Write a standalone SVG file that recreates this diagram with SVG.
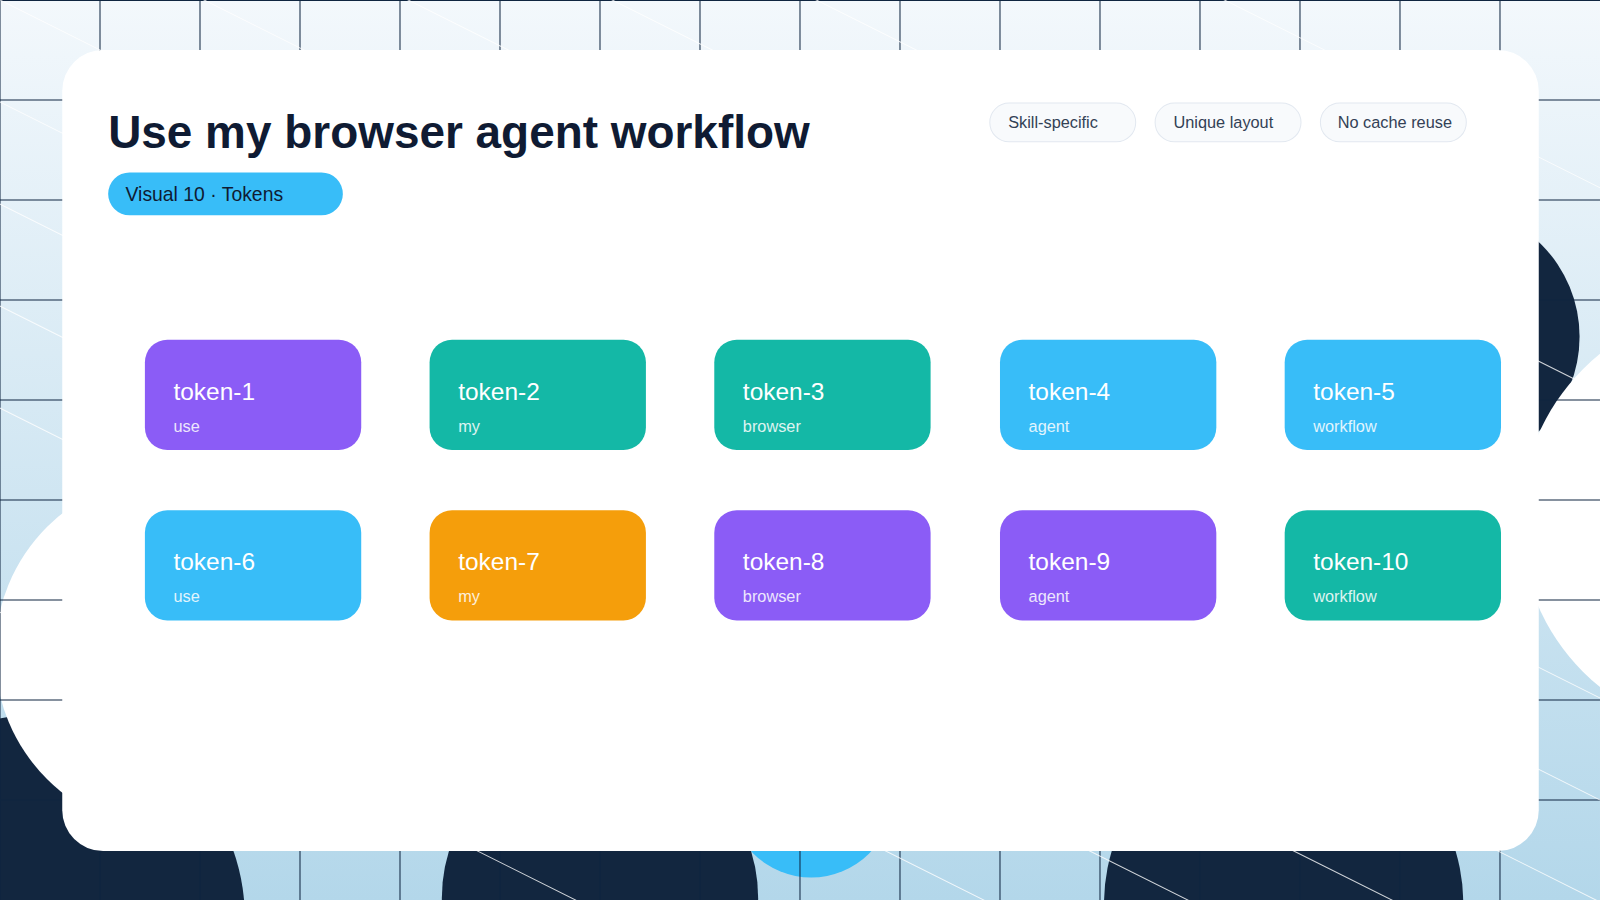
<svg xmlns="http://www.w3.org/2000/svg" width="1600" height="900" viewBox="0 0 1600 900">
<defs>
<linearGradient id="bg" x1="0" y1="0" x2="0" y2="1"><stop offset="0" stop-color="#f3f8fc"/><stop offset="1" stop-color="#b3d7ea"/></linearGradient>
<clipPath id="full"><rect width="1568" height="882"/></clipPath>
<style>
.grid{stroke:#0f2540;stroke-width:1}
.diag{stroke:#fff;stroke-width:1;opacity:.8}
.tag rect{fill:#f8fafc;stroke:#e2e8f0;stroke-width:1}
.tag text{font-family:"Liberation Sans",Arial,sans-serif;font-size:16px;fill:#334155}
.node text{font-family:"Liberation Sans",Arial,sans-serif;fill:#fff}
.t{font-size:24px}.s{font-size:16px;opacity:.85}
</style>
</defs>
<g transform="scale(1.0204)">
<g clip-path="url(#full)">
<rect width="1568" height="882" fill="url(#bg)"/>
<circle cx="795" cy="780" r="80" fill="#38bdf8"/>
<circle cx="40" cy="900" r="200" fill="#12263f"/>
<circle cx="588" cy="880" r="155" fill="#12263f"/>
<circle cx="1258" cy="885" r="176" fill="#12263f"/>
<circle cx="1420" cy="330" r="128" fill="#12263f"/>
<circle cx="1700" cy="510" r="210" fill="#fff"/>
<circle cx="170" cy="640" r="175" fill="#fff"/>
<g class="grid">
<path d="M0 0V882M98 0V882M196 0V882M294 0V882M392 0V882M490 0V882M588 0V882M686 0V882M784 0V882M882 0V882M980 0V882M1078 0V882M1176 0V882M1274 0V882M1372 0V882M1470 0V882M0 0.5H1568M0 98H1568M0 196H1568M0 294H1568M0 392H1568M0 490H1568M0 588H1568M0 686H1568M0 784H1568"/>
</g>
<g class="diag">
<path d="M-400 -200L1800 900M-400 0L1800 1100M-400 200L1800 1300M-400 400L1800 1500M-400 -400L1800 700M-400 -600L1800 500M-400 -800L1800 300M-400 -1000L1800 100M-400 -100L1800 1000M-400 100L1800 1200M-400 -300L1800 800M-400 -500L1800 600"/>
</g>
</g>
<rect x="61" y="49" width="1447" height="785" rx="40" fill="#fff"/>
<text x="106" y="145" font-family="Liberation Sans,Arial,sans-serif" font-size="45" font-weight="bold" fill="#0f1b33">Use my browser agent workflow</text>
<rect x="106" y="169" width="230" height="42" rx="21" fill="#38bdf8"/>
<text x="123" y="197" font-family="Liberation Sans,Arial,sans-serif" font-size="19" fill="#0f1b33">Visual 10 · Tokens</text>
<g class="tag" id="tag1"><rect x="970" y="101" width="143" height="38" rx="19"/><text x="988" y="125">Skill-specific</text></g>
<g class="tag" id="tag2"><rect x="1132" y="101" width="143" height="38" rx="19"/><text x="1150" y="125">Unique layout</text></g>
<g class="tag" id="tag3"><rect x="1294" y="101" width="143" height="38" rx="19"/><text x="1311" y="125">No cache reuse</text></g>
<g id="connectors"/>
<g class="node" id="token-1"><rect x="142" y="333" width="212" height="108" rx="22" fill="#8b5cf6"/><text class="t" x="170" y="392">token-1</text><text class="s" x="170" y="423">use</text></g>
<g class="node" id="token-2"><rect x="421" y="333" width="212" height="108" rx="22" fill="#14b8a6"/><text class="t" x="449" y="392">token-2</text><text class="s" x="449" y="423">my</text></g>
<g class="node" id="token-3"><rect x="700" y="333" width="212" height="108" rx="22" fill="#14b8a6"/><text class="t" x="728" y="392">token-3</text><text class="s" x="728" y="423">browser</text></g>
<g class="node" id="token-4"><rect x="980" y="333" width="212" height="108" rx="22" fill="#38bdf8"/><text class="t" x="1008" y="392">token-4</text><text class="s" x="1008" y="423">agent</text></g>
<g class="node" id="token-5"><rect x="1259" y="333" width="212" height="108" rx="22" fill="#38bdf8"/><text class="t" x="1287" y="392">token-5</text><text class="s" x="1287" y="423">workflow</text></g>
<g class="node" id="token-6"><rect x="142" y="500" width="212" height="108" rx="22" fill="#38bdf8"/><text class="t" x="170" y="559">token-6</text><text class="s" x="170" y="590">use</text></g>
<g class="node" id="token-7"><rect x="421" y="500" width="212" height="108" rx="22" fill="#f59e0b"/><text class="t" x="449" y="559">token-7</text><text class="s" x="449" y="590">my</text></g>
<g class="node" id="token-8"><rect x="700" y="500" width="212" height="108" rx="22" fill="#8b5cf6"/><text class="t" x="728" y="559">token-8</text><text class="s" x="728" y="590">browser</text></g>
<g class="node" id="token-9"><rect x="980" y="500" width="212" height="108" rx="22" fill="#8b5cf6"/><text class="t" x="1008" y="559">token-9</text><text class="s" x="1008" y="590">agent</text></g>
<g class="node" id="token-10"><rect x="1259" y="500" width="212" height="108" rx="22" fill="#14b8a6"/><text class="t" x="1287" y="559">token-10</text><text class="s" x="1287" y="590">workflow</text></g>
</g>
</svg>
